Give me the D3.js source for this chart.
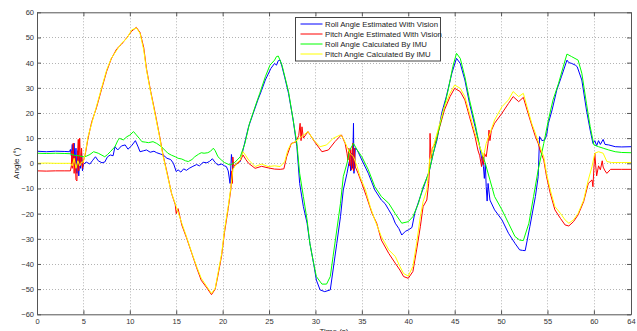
<!DOCTYPE html>
<html>
<head>
<meta charset="utf-8">
<script src="https://cdn.jsdelivr.net/npm/d3@7"></script>
<style>
  body { margin: 0; background: #fff; }
  svg { display: block; font-family: Arial, "Liberation Sans", Helvetica, sans-serif; }
  .axis text { font-size: 7.5px; fill: #333; }
  .axis path, .axis line { stroke: #555; }
  .grid line { stroke: #b3b3b3; stroke-dasharray: 1,2; }
  .series { fill: none; stroke-width: 1; }
</style>
</head>
<body>
<div id="chart"></div>
<script>
// [time (s), angle (deg)]
var rollVision = [[0,4.8],[1,4.6],[2,4.8],[3,4.7],[3.5,4.6],[3.6,5.5],[3.7,3],[3.8,7.5],[3.9,1],[4.0,8],[4.1,-1],[4.2,6],[4.3,-4],[4.4,5],[4.5,-5],[4.6,3],[4.7,-2],[4.8,4],[4.9,-3],[5.0,-0.5],[5.3,0.5],[5.7,-0.3],[6.0,1.2],[6.3,2.6],[6.6,1.0],[7.0,0.2],[7.3,0.5],[7.6,2.6],[7.9,3.3],[8.2,3.0],[8.4,6.6],[8.7,5.3],[9.1,6.9],[9.5,7.3],[9.8,5.6],[10.2,7],[10.6,9],[10.9,6.5],[11.1,4.6],[11.5,5.0],[11.8,5.3],[12.2,4.4],[12.6,4.8],[12.9,4.2],[13.3,3.7],[13.6,3.3],[14.0,2.0],[14.4,1.5],[14.7,0],[15.0,-3.3],[15.2,-2.6],[15.5,-3.5],[15.8,-2.2],[16.1,-2.8],[16.4,-2.0],[16.8,-1.2],[17.2,-0.5],[17.5,-1.0],[17.9,0.4],[18.3,0.2],[18.6,0.8],[18.9,1.8],[19.2,0.3],[19.5,-0.7],[19.9,-0.3],[20.2,-1.0],[20.4,-1.3],[20.6,-3],[20.8,-8],[20.95,3.5],[21.1,-2],[21.3,-0.7],[21.6,0.3],[21.9,0.7],[22.2,5.3],[22.5,10],[22.8,14.6],[23.3,19.9],[23.8,25.2],[24.2,29],[24.6,33.1],[25.2,37.7],[25.6,39.7],[25.8,39],[26.0,40.8],[26.2,41],[26.4,38.4],[26.7,34],[27.1,27.8],[27.6,17.2],[28.0,6.6],[28.3,-8],[28.7,-17.2],[29.1,-23.8],[29.4,-31.8],[29.8,-39.7],[30.1,-46.4],[30.5,-50.3],[31.0,-51],[31.6,-50.3],[31.9,-42.4],[32.3,-31.8],[32.7,-21.2],[33.0,-10.6],[33.4,-4],[33.6,0],[33.7,1.3],[33.8,-3],[33.9,4],[34.0,-2],[34.1,15.9],[34.15,-4],[34.3,6],[34.5,5.3],[35.0,1.3],[35.7,-4],[36.4,-10.6],[37.1,-14.6],[37.5,-16],[37.9,-18.5],[38.3,-21],[38.6,-23.8],[39.0,-26],[39.3,-28.5],[39.7,-27],[40.0,-26.5],[40.4,-25.5],[40.7,-19.9],[41.3,-13.2],[41.8,-8],[42.3,-2.6],[42.7,4],[43.1,9.3],[43.6,19.9],[44.1,26.5],[44.7,35.8],[45.2,41.7],[45.6,39.7],[46.1,33.1],[46.6,23.8],[47.2,14.6],[47.7,6.6],[47.9,2],[48.1,-1.3],[48.2,-6],[48.3,0],[48.4,-9.3],[48.5,-15],[48.6,-8],[48.8,-14.6],[49.3,-18.5],[50.1,-22.5],[50.8,-27.8],[51.5,-31.8],[52.0,-34.4],[52.3,-34.6],[52.6,-34.7],[53.1,-25.2],[53.7,-13.2],[54.0,-5.3],[54.15,10.6],[54.4,9],[54.7,9.3],[54.9,11],[55.1,15.9],[55.5,21.2],[56.0,29.1],[56.5,34.4],[57.1,41],[57.3,40],[57.6,39.7],[58.0,39],[58.2,38.4],[58.7,33.1],[59.2,21.2],[59.6,13.2],[59.9,7.9],[60.1,9],[60.3,7],[60.5,9],[60.7,7.5],[61.0,9.5],[61.2,7.5],[61.6,7.3],[62.3,6.6],[63,6.5],[64,6.6]];

var pitchVision = [[0,-3],[1,-3.1],[2,-3],[3,-3],[3.6,-3],[3.7,-1],[3.75,5],[3.8,-2],[3.9,8],[4.0,-4],[4.1,3],[4.2,-6.5],[4.3,-7],[4.35,2],[4.45,9.5],[4.5,-3],[4.6,10],[4.7,-1],[4.8,6],[4.9,-2],[5.0,1],[5.2,3.5],[5.5,10],[5.9,16.5],[6.4,22],[7.0,30],[7.5,36.5],[8.0,41.5],[8.6,45.5],[9.1,47.3],[9.7,50],[10.2,52.5],[10.7,54],[11.1,52],[11.5,46],[11.8,37.5],[12.2,29.5],[12.7,20.5],[13.2,11],[13.6,3],[14.0,-3.5],[14.5,-12],[14.9,-16.5],[15.0,-20],[15.2,-18],[15.6,-24.5],[16.1,-29.5],[16.7,-36],[17.2,-41.5],[17.7,-46.5],[18.3,-49.5],[18.8,-52.2],[19.2,-50],[19.5,-44.5],[19.9,-36.5],[20.2,-27.5],[20.6,-18],[20.9,-10],[21.0,-3],[21.05,-8],[21.1,2.5],[21.2,-1],[21.5,-0.5],[21.9,1],[22.2,3.3],[22.5,1.5],[22.8,0],[23.5,-2],[24.2,-1.2],[24.9,-1.8],[25.6,-2.3],[26.2,-2.4],[26.6,-2.2],[26.9,2.6],[27.4,7.9],[27.9,8.5],[28.2,11],[28.35,15.9],[28.45,9],[28.55,14.5],[28.7,10],[29.2,12.6],[29.9,8.6],[30.7,4.6],[31.4,5.3],[32.1,8.6],[32.8,11.3],[33.2,7.9],[33.4,4],[33.5,1.3],[33.6,6],[33.7,-1],[33.8,5.5],[33.9,-2.6],[34.0,7.9],[34.1,-3],[34.2,6],[34.3,-1.5],[34.6,-4],[35.0,-8],[35.5,-13.2],[36.1,-19.9],[36.6,-23.8],[37.1,-30.5],[37.9,-35.8],[38.6,-39.7],[39.1,-42.4],[39.5,-45],[40.0,-45.7],[40.5,-43],[40.9,-34.4],[41.3,-25.2],[41.6,-17.2],[42.0,-14.6],[42.2,-8],[42.3,-1.3],[42.35,11.9],[42.45,2],[42.6,6],[42.9,7.9],[43.4,14.6],[43.9,21.2],[44.5,26.5],[45.0,29.8],[45.6,28.5],[46.1,25.2],[46.6,18.5],[47.2,10.6],[47.5,5.3],[47.7,3],[47.9,-1.3],[48.0,3],[48.1,-0.5],[48.2,4],[48.4,2.6],[48.6,8],[48.7,13.2],[48.8,9],[48.95,13],[49.3,15.9],[50.1,19.9],[50.8,23.8],[51.3,26.5],[51.9,24.5],[52.4,26.2],[52.8,21.2],[53.3,15.2],[53.7,10.6],[54.0,7.9],[54.2,5.3],[54.6,1.3],[54.9,-5.3],[55.3,-11.9],[55.8,-18.5],[56.4,-21.9],[56.9,-24.5],[57.3,-24.9],[57.8,-23.2],[58.3,-20.5],[58.9,-15.2],[59.4,-8],[59.8,-6.6],[59.9,-9.3],[60.0,-2],[60.1,4],[60.2,-1],[60.3,-5],[60.5,-1],[60.7,-2.6],[60.9,1],[61.0,-1.5],[61.2,-3],[61.4,-4],[61.8,-2.4],[63,-2.4],[64,-2.4]];

var rollIMU = [[0,4],[1,3.9],[2,4],[3,3.9],[3.6,3.8],[4.0,3.2],[4.5,3.0],[5.0,2.6],[5.3,2.8],[5.7,3.5],[6.1,4.6],[6.6,4.0],[7.0,3.2],[7.3,2.6],[7.6,3.5],[7.9,4.6],[8.4,6.6],[8.7,9.0],[8.9,9.9],[9.3,9.3],[9.7,10.6],[10.0,11.2],[10.4,12.6],[10.7,11.3],[11.0,10],[11.3,8.6],[11.7,8.4],[12.0,8.2],[12.5,8.6],[12.9,7.9],[13.4,6.6],[14.1,4.0],[14.5,3.2],[14.9,2.6],[15.2,2.0],[15.6,1.7],[16.0,1.0],[16.3,0.7],[16.7,1.5],[17.0,2.6],[17.4,3.6],[17.7,4.2],[18.0,4.0],[18.4,4.2],[18.7,4.8],[19.0,6],[19.2,5],[19.5,2.6],[19.9,1.2],[20.2,0.3],[20.8,-0.7],[21.3,0.3],[21.9,2.6],[22.4,7.9],[22.9,15.9],[23.5,22.5],[24.0,27.8],[24.6,34.4],[25.1,39],[25.6,41],[25.8,42.4],[26.0,42.6],[26.4,39],[26.7,34.5],[27.1,28.5],[27.6,17.2],[28.0,7.9],[28.3,-4],[28.7,-13.2],[29.1,-22.5],[29.4,-31.8],[29.8,-39.7],[30.1,-45],[30.7,-48],[31.2,-48],[31.6,-45],[31.9,-37],[32.3,-26.5],[32.7,-15.9],[33.0,-5.3],[33.4,0],[33.7,5.3],[34.1,7.9],[34.5,5.3],[35.0,2.6],[35.7,-2.6],[36.4,-9.3],[37.1,-13.2],[37.9,-15.9],[38.6,-20],[39.3,-23.8],[40.0,-23.2],[40.5,-21.2],[41.1,-15.9],[41.6,-9.3],[42.2,-4],[42.7,4],[43.2,11.9],[43.8,21.2],[44.3,29.1],[44.8,38.4],[45.2,43.7],[45.6,41.7],[46.1,34.4],[46.6,25.2],[47.2,15.9],[47.7,6.6],[48.3,0],[48.8,-6.6],[49.3,-13.2],[50.1,-18.5],[50.8,-23.8],[51.5,-29.1],[52.0,-30.5],[52.4,-30.7],[53.0,-23.8],[53.5,-13.2],[54.0,-2.6],[54.6,7.9],[55.1,17.2],[55.6,25.2],[56.2,31.8],[56.7,38.4],[57.1,43.4],[57.6,42.4],[58.3,41],[58.7,35.8],[59.2,23.8],[59.6,14.6],[60.0,7.3],[60.5,6.6],[61.0,6],[61.6,5.3],[62.3,4.6],[63,4.3],[64,4.2]];

var pitchIMU = [[0,0],[1,0.1],[2,0],[3,0],[3.6,0],[3.8,-1],[4.0,2],[4.2,-2],[4.4,1],[4.6,-1],[4.8,0.5],[5.0,0.5],[5.2,4],[5.5,10.6],[5.9,15.9],[6.4,22.5],[7.0,30.5],[7.5,37],[8.0,41.7],[8.6,45],[9.1,47.7],[9.7,49.7],[10.2,53],[10.7,53.8],[11.1,51.7],[11.5,45],[11.8,37],[12.2,29.1],[12.7,19.9],[13.2,10.6],[13.6,2.6],[14.0,-4],[14.5,-11.9],[15.0,-17.2],[15.6,-23.8],[16.1,-29.1],[16.7,-35.8],[17.2,-41],[17.7,-45.7],[18.3,-49],[18.8,-51.7],[19.2,-49.7],[19.5,-43.7],[19.9,-35.8],[20.2,-26.5],[20.6,-17.2],[20.9,-9.3],[21.1,-2.6],[21.5,0],[21.9,1.3],[22.2,4.6],[22.5,3],[22.8,1.3],[23.5,-1.3],[24.2,-0.3],[24.9,-1.3],[25.6,-1],[26.2,-1.3],[26.7,0.7],[27.0,5],[27.3,7.3],[27.8,8.6],[28.5,10.6],[29.2,12.6],[29.8,9.3],[30.5,6.6],[31.2,7.3],[31.9,9.9],[32.7,11.3],[33.0,9.9],[33.4,6.6],[33.7,4],[34.1,2.6],[34.5,-1.3],[34.8,-5.3],[35.4,-10.6],[35.9,-17.2],[36.4,-22.5],[37.1,-29.1],[37.9,-34.4],[38.6,-37],[39.1,-41],[39.5,-43.8],[40.0,-44.8],[40.5,-41],[40.9,-31.8],[41.3,-21.2],[41.6,-15.2],[42.0,-10.6],[42.3,1.3],[42.9,9.3],[43.4,15.9],[43.9,22.5],[44.5,27.8],[45.0,31.1],[45.6,29.8],[46.1,26.5],[46.6,19.9],[47.2,11.9],[47.7,6.6],[48.1,2.6],[48.4,7.9],[48.8,11.9],[49.3,17.2],[50.1,22.5],[50.8,25.2],[51.3,28.5],[51.9,26.5],[52.4,27.8],[52.8,22.5],[53.3,15.9],[53.7,11.9],[54.2,6.6],[54.6,2.6],[54.9,-4],[55.3,-10.6],[55.8,-17.2],[56.4,-19.9],[56.9,-22.5],[57.3,-23.8],[57.8,-22.5],[58.3,-19.9],[58.9,-14.6],[59.4,-6.6],[59.8,-1.3],[60.1,4],[60.5,4.6],[61.0,4],[61.4,0.7],[61.9,0.3],[63,0.3],[64,0.3]];

var seriesNames = ['Roll Angle Estimated With Vision', 'Pitch Angle Estimated With Vision', 'Roll Angle Calculated By IMU', 'Pitch Angle Calculated By IMU'];
var seriesColors = ['#0000ff', '#ff0000', '#00ff00', '#ffff00'];
var xTicks = [0,5,10,15,20,25,30,35,40,45,50,55,60,64];
var yTicks = [-60,-50,-40,-30,-20,-10,0,10,20,30,40,50,60];

var width = 637, height = 331;
var plotLeft = 37, plotRight = 631, plotTop = 12.3, plotBottom = 314.3;

var svg = d3.select('#chart').append('svg')
  .attr('width', width)
  .attr('height', height);

var x = d3.scaleLinear().domain([0, 64]).range([plotLeft, plotRight]);
var y = d3.scaleLinear().domain([-60, 60]).range([plotBottom, plotTop]);

// dotted grid
var grid = svg.append('g').attr('class', 'grid');
grid.selectAll('.gx')
  .data(xTicks.filter(function (d) { return d > 0 && d < 64; }))
  .enter().append('line')
  .attr('x1', function (d) { return Math.round(x(d)) + 0.5; })
  .attr('x2', function (d) { return Math.round(x(d)) + 0.5; })
  .attr('y1', plotTop).attr('y2', plotBottom);
grid.selectAll('.gy')
  .data(yTicks.filter(function (d) { return d > -60 && d < 60; }))
  .enter().append('line')
  .attr('y1', function (d) { return Math.round(y(d)) + 0.5; })
  .attr('y2', function (d) { return Math.round(y(d)) + 0.5; })
  .attr('x1', plotLeft).attr('x2', plotRight);

// data lines
var line = d3.line()
  .x(function (d) { return x(d[0]); })
  .y(function (d) { return y(d[1]); });

var allSeries = [rollVision, pitchVision, rollIMU, pitchIMU];
svg.selectAll('.series')
  .data(allSeries)
  .enter().append('path')
  .attr('class', 'series')
  .attr('d', line)
  .attr('stroke', function (d, i) { return seriesColors[i]; });

// axes, ticks pointing inward on all four sides
svg.append('g').attr('class', 'axis')
  .attr('transform', 'translate(0,' + plotBottom + ')')
  .call(d3.axisBottom(x).tickValues(xTicks).tickSizeInner(-4).tickSizeOuter(0).tickPadding(4));
svg.append('g').attr('class', 'axis')
  .attr('transform', 'translate(' + plotLeft + ',0)')
  .call(d3.axisLeft(y).tickValues(yTicks).tickSizeInner(-4).tickSizeOuter(0).tickPadding(3));
svg.append('g').attr('class', 'axis')
  .attr('transform', 'translate(0,' + plotTop + ')')
  .call(d3.axisTop(x).tickValues(xTicks).tickSizeInner(-4).tickSizeOuter(0).tickFormat(''));
svg.append('g').attr('class', 'axis')
  .attr('transform', 'translate(' + plotRight + ',0)')
  .call(d3.axisRight(y).tickValues(yTicks).tickSizeInner(-4).tickSizeOuter(0).tickFormat(''));

// x label sits at the bottom edge, partly clipped as in the original
svg.append('text')
  .attr('x', (plotLeft + plotRight) / 2)
  .attr('y', 333.5)
  .attr('text-anchor', 'middle')
  .style('font-size', '8px')
  .style('fill', '#222')
  .text('Time (s)');

svg.append('text')
  .attr('transform', 'translate(19,' + ((plotTop + plotBottom) / 2) + ') rotate(-90)')
  .attr('text-anchor', 'middle')
  .style('font-size', '8px')
  .style('fill', '#222')
  .text('Angle (°)');

// legend
var legend = svg.append('g').attr('transform', 'translate(295.5,17.5)');
legend.append('rect')
  .attr('width', 145)
  .attr('height', 43.5)
  .attr('fill', '#fff')
  .attr('stroke', '#444');
var item = legend.selectAll('.legend')
  .data(seriesNames)
  .enter().append('g')
  .attr('class', 'legend')
  .attr('transform', function (d, i) { return 'translate(0,' + (6.5 + i * 10) + ')'; });
item.append('line')
  .attr('x1', 5).attr('x2', 27)
  .attr('stroke-width', 1)
  .attr('stroke', function (d, i) { return seriesColors[i]; });
item.append('text')
  .attr('x', 29.5)
  .attr('y', 2.8)
  .style('font-size', '7.8px')
  .style('fill', '#222')
  .text(function (d) { return d; });
</script>
</body>
</html>
